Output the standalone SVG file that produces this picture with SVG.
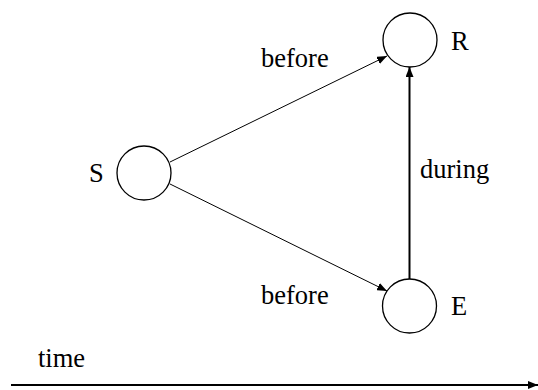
<svg xmlns="http://www.w3.org/2000/svg" width="538" height="390" viewBox="0 0 538 390">
  <style>
    .node { fill: #fff; stroke: #000; stroke-width: 1.3; }
    .lbl { font-family: "Liberation Serif", "Times New Roman", serif; font-size: 26.5px; fill: #000; }
    .edge { fill: none; stroke: #000; stroke-width: 1; }
    .edge.thick { stroke-width: 2; }
  </style>
  <defs>
    <marker id="arrow" viewBox="0 0 10 8" refX="10" refY="4" markerWidth="10" markerHeight="8" markerUnits="userSpaceOnUse" orient="auto">
      <path d="M0,0 L10,4 L0,8 z" fill="#000"/>
    </marker>
  </defs>
  <rect width="538" height="390" fill="#fff"/>

  <g id="connectors">
    <line class="edge" x1="170" y1="162" x2="387" y2="56" marker-end="url(#arrow)"/>
    <line class="edge" x1="170" y1="184" x2="387" y2="291" marker-end="url(#arrow)"/>
    <line class="edge thick" x1="409.5" y1="279" x2="409.5" y2="67" marker-end="url(#arrow)"/>
    <text class="lbl" x="261" y="67">before</text>
    <text class="lbl" x="261" y="304">before</text>
    <text class="lbl" x="420" y="178">during</text>
  </g>

  <g id="node-S">
    <circle class="node" cx="144" cy="173" r="27"/>
    <text class="lbl" x="89" y="182">S</text>
  </g>
  <g id="node-R">
    <circle class="node" cx="410" cy="40" r="27"/>
    <text class="lbl" x="451" y="50">R</text>
  </g>
  <g id="node-E">
    <circle class="node" cx="409.5" cy="306" r="27"/>
    <text class="lbl" x="451" y="315">E</text>
  </g>

  <g id="time-axis">
    <text class="lbl" x="38" y="367">time</text>
    <line class="edge thick" x1="11" y1="385" x2="538" y2="385" marker-end="url(#arrow)"/>
  </g>
</svg>
